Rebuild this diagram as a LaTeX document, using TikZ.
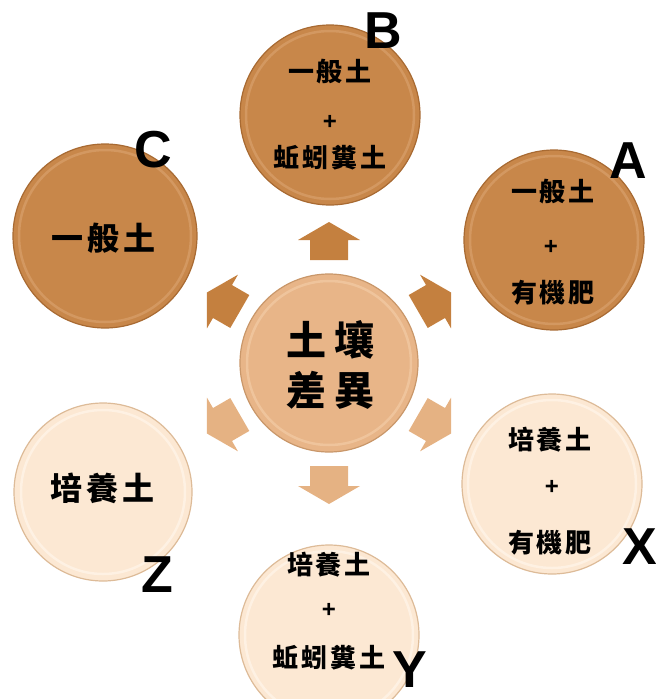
\documentclass[tikz,border=0pt]{standalone}
\usepackage{fontspec}
\setmainfont{Liberation Sans}
\newfontfamily\cjk{Noto Sans CJK TC}
\newcommand\kk{\kern3pt}
\newcommand\kw{\kern4pt}
\newcommand\kc{\kern8pt}
\definecolor{darkfill}{HTML}{C8874A}
\definecolor{darkrim}{HTML}{D9A06B}
\definecolor{darkedge}{HTML}{A86A32}
\definecolor{midfill}{HTML}{E8B588}
\definecolor{midrim}{HTML}{F2CBA5}
\definecolor{midedge}{HTML}{C9976A}
\definecolor{lightfill}{HTML}{FCE8D3}
\definecolor{lightrim}{HTML}{FFF5EA}
\definecolor{lightedge}{HTML}{DDBB98}
\definecolor{darkarrow}{HTML}{C4803F}
\definecolor{lightarrow}{HTML}{E5B283}
\begin{document}
\begin{tikzpicture}[x=1pt,y=-1pt,
  disc/.style={circle, inner sep=0pt, line width=1.2pt},
  darkdisc/.style={disc, fill=darkfill, draw=darkedge},
  middisc/.style={disc, fill=midfill, draw=midedge},
  lightdisc/.style={disc, fill=lightfill, draw=lightedge},
  smalltxt/.style={inner sep=0pt, font=\cjk\bfseries\fontsize{26}{30}\selectfont},
  midtxt/.style={inner sep=0pt, font=\cjk\bfseries\fontsize{32}{36}\selectfont},
  bigtxt/.style={inner sep=0pt, font=\cjk\bfseries\fontsize{40}{44}\selectfont},
  plustxt/.style={inner sep=0pt, font=\bfseries\fontsize{24}{26}\selectfont},
  letter/.style={inner sep=0pt, font=\bfseries\fontsize{52}{56}\selectfont}
]
\useasboundingbox (0,0) rectangle (656,699);

% circles
\node[darkdisc, minimum size=180] (B) at (330,115) {};
\node[darkdisc, minimum size=180] (A) at (554,240) {};
\node[darkdisc, minimum size=184] (C) at (105,236) {};
\node[lightdisc, minimum size=178] (Z) at (103,492) {};
\node[lightdisc, minimum size=180] (X) at (552,484) {};
\node[lightdisc, minimum size=180] (Y) at (329,635) {};
\node[middisc, minimum size=178] (S) at (329,363) {};

% bevel rims
\foreach \n/\r/\c in {B/84/darkrim, A/84/darkrim, C/86/darkrim, S/82/midrim, Z/82/lightrim, X/84/lightrim, Y/84/lightrim}{
  \draw[\c, line width=2.5pt, opacity=0.7] (\n.center) circle (\r);
}

% arrows
\foreach \ang/\col in {90/darkarrow, 150/darkarrow, 30/darkarrow, 210/lightarrow, 270/lightarrow, 330/lightarrow}{
  \begin{scope}[shift={(S.center)}, rotate=\ang]
    \fill[\col] (103,-19) -- (123,-19) -- (123,-31) -- (141,0) -- (123,31) -- (123,19) -- (103,19) -- cycle;
  \end{scope}
}

% texts
\node[smalltxt] (b1) at (330,72) {一\kk 般\kk 土};
\node[plustxt] (b2) at (330,122) {+};
\node[smalltxt] (b3) at (330,158) {蚯\kk 蚓\kk 糞\kk 土};

\node[smalltxt] (a1) at (553,192) {一\kk 般\kk 土};
\node[plustxt] (a2) at (551,247) {+};
\node[smalltxt] (a3) at (553,293) {有\kk 機\kk 肥};

\node[midtxt] (c1) at (103,238) {一\kw 般\kw 土};
\node[midtxt] (z1) at (102,488) {培\kw 養\kw 土};

\node[smalltxt] (x1) at (550,440) {培\kk 養\kk 土};
\node[plustxt] (x2) at (552,487) {+};
\node[smalltxt] (x3) at (550,543) {有\kk 機\kk 肥};

\node[smalltxt] (y1) at (329,565) {培\kk 養\kk 土};
\node[plustxt] (y2) at (329,610) {+};
\node[smalltxt] (y3) at (329,658) {蚯\kk 蚓\kk 糞\kk 土};

\node[bigtxt] (s1) at (330,340) {土\kc 壤};
\node[bigtxt] (s2) at (330,390) {差\kc 異};

% letters
\node[letter] (lB) at (383,31) {B};
\node[letter] (lA) at (628,161) {A};
\node[letter] (lC) at (153,150) {C};
\node[letter] (lX) at (640,547) {X};
\node[letter] (lZ) at (157,575) {Z};
\node[letter] (lY) at (410,670) {Y};
\end{tikzpicture}
\end{document}
